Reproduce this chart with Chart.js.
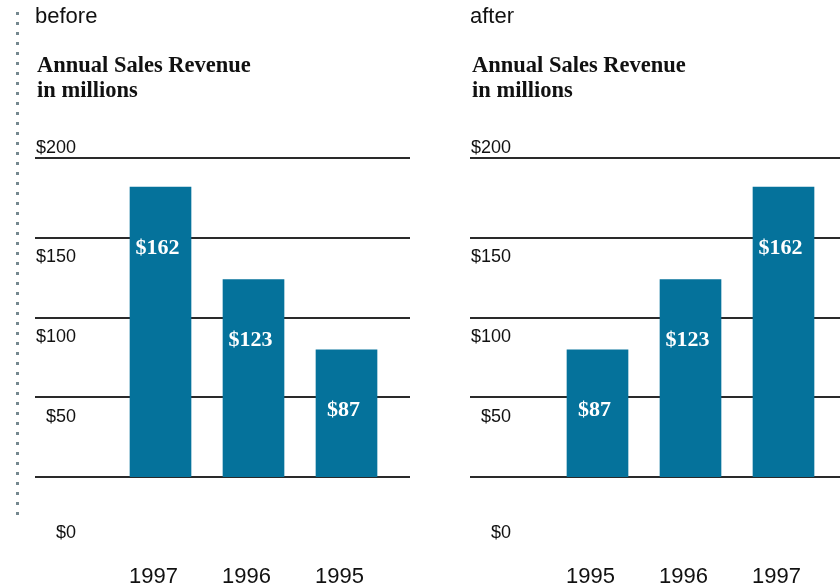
<!DOCTYPE html>
<html>
<head>
<meta charset="utf-8">
<script src="https://cdn.jsdelivr.net/npm/chart.js@4"></script>
<style>
    body { margin: 0; width: 840px; height: 588px; background: #fff; position: relative; overflow: hidden; }
    .panel { position: absolute; top: 0; height: 588px; }
    .panel canvas { position: absolute; left: 0; top: 0; }
    .tag { position: absolute; left: 35px; top: 4px; font: 22px/24px "Liberation Sans", Arial, sans-serif; color: #111; }
    .titulo { position: absolute; left: 37px; top: 52px; font: bold 22.5px/25px "Liberation Serif", "Times New Roman", serif; color: #111; }
    .pontilhado {
        position: absolute; left: 16px; top: 12px; width: 3px; height: 503px;
        background: repeating-linear-gradient(to bottom, #75888f 0 3px, transparent 3px 10px);
    }
</style>
</head>
<body>
<div class="pontilhado"></div>

<div class="panel" id="painelAntes" style="left:0;width:420px;">
    <canvas id="graficoAntes" width="420" height="588"></canvas>
    <div class="tag">before</div>
    <div class="titulo">Annual Sales Revenue<br>in millions</div>
</div>

<div class="panel" id="painelDepois" style="left:435px;width:405px;">
    <canvas id="graficoDepois" width="405" height="588"></canvas>
    <div class="tag">after</div>
    <div class="titulo">Annual Sales Revenue<br>in millions</div>
</div>

<script>
// dados
const anosAntes = ['1997', '1996', '1995'];
const receitaAntes = [162, 123, 87];      // valores escritos nas barras
const alturaAntes = [182, 124, 80];       // altura desenhada das barras na escala de $

const anosDepois = ['1995', '1996', '1997'];
const receitaDepois = [87, 123, 162];
const alturaDepois = [80, 124, 182];

const valoresEixo = [0, 50, 100, 150, 200];
const rotulosEixo = ['$0', '$50', '$100', '$150', '$200'];

const corBarra = '#05729b';

// linhas de grade e rotulos desenhados a partir da escala do Chart.js
const pluginDesenho = {
    id: 'desenhoPainel',
    beforeDatasetsDraw(chart) {
        const ctx = chart.ctx;
        const y = chart.scales.y;
        ctx.save();
        ctx.strokeStyle = '#2a2a2a';
        ctx.lineWidth = 2;
        valoresEixo.forEach(v => {
            const py = Math.round(y.getPixelForValue(v));
            ctx.beginPath();
            ctx.moveTo(35, py);
            ctx.lineTo(410, py);
            ctx.stroke();
        });
        ctx.restore();
    },
    afterDatasetsDraw(chart) {
        const ctx = chart.ctx;
        const y = chart.scales.y;
        const meta = chart.getDatasetMeta(0);
        const receita = chart.options.plugins.desenhoPainel.receita;
        ctx.save();

        // rotulos do eixo y (fora do lugar, como no original)
        const deslocamento = [61, 25, 24, 24, -5];
        ctx.fillStyle = '#111';
        ctx.font = '18px "Liberation Sans", Arial, sans-serif';
        ctx.textAlign = 'right';
        ctx.textBaseline = 'alphabetic';
        valoresEixo.forEach((v, i) => {
            ctx.fillText(rotulosEixo[i], 76, y.getPixelForValue(v) + deslocamento[i]);
        });

        // valores dentro das barras
        ctx.fillStyle = '#ffffff';
        ctx.font = 'bold 22px "Liberation Serif", "Times New Roman", serif';
        ctx.textAlign = 'center';
        meta.data.forEach((barra, i) => {
            ctx.fillText('$' + receita[i], barra.x - 3, barra.y + 67);
        });

        // anos embaixo
        ctx.fillStyle = '#111';
        ctx.font = '22px "Liberation Sans", Arial, sans-serif';
        meta.data.forEach((barra, i) => {
            ctx.fillText(chart.data.labels[i], barra.x - 7, y.getPixelForValue(0) + 106);
        });
        ctx.restore();
    }
};

function criarGrafico(id, anos, alturas, receita, padEsq, padDir) {
    const ctx = document.getElementById(id).getContext('2d');
    return new Chart(ctx, {
        type: 'bar',
        data: {
            labels: anos,
            datasets: [{
                data: alturas,
                backgroundColor: corBarra,
                borderWidth: 0,
                barPercentage: 1,
                categoryPercentage: 0.663
            }]
        },
        options: {
            responsive: false,
            animation: false,
            devicePixelRatio: 1,
            layout: { padding: { left: padEsq, right: padDir, top: 158, bottom: 111 } },
            scales: {
                x: { display: false },
                y: { display: false, min: 0, max: 200 }
            },
            plugins: {
                legend: { display: false },
                tooltip: { enabled: false },
                desenhoPainel: { receita: receita }
            }
        },
        plugins: [pluginDesenho]
    });
}

criarGrafico('graficoAntes', anosAntes, alturaAntes, receitaAntes, 114, 27);
criarGrafico('graficoDepois', anosDepois, alturaDepois, receitaDepois, 116, 10);
</script>
</body>
</html>
